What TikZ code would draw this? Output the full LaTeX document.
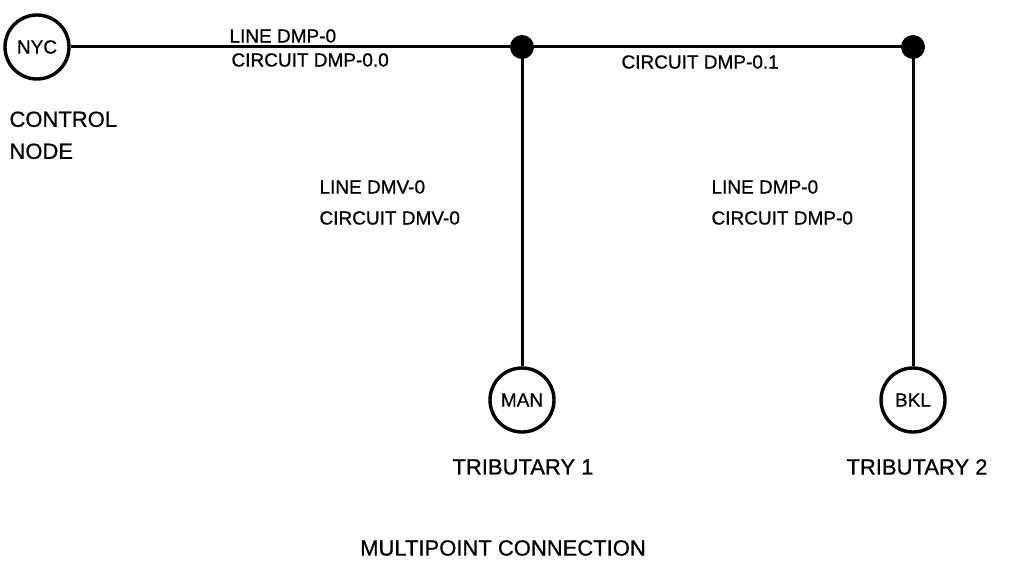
\documentclass[tikz,border=0pt]{standalone}
\usepackage{fontspec}
\setmainfont[FakeBold=0.7]{Liberation Sans}
\newcommand\linefont{\fontsize{19}{23}\selectfont}
\newcommand\namefont{\fontsize{22}{32}\selectfont}
\begin{document}
\begin{tikzpicture}[x=1pt, y=-1pt, line width=3pt,
  every node/.style={font=\linefont, inner sep=0pt},
  site/.style={draw, circle, minimum size=64pt, line width=3.4pt},
  tap/.style={fill, circle, minimum size=24pt},
  caption/.style={font=\namefont, align=left}]
  \useasboundingbox (0,0) rectangle (1019,588);
  % stations and taps
  \node[site] (nyc) at (37,47) {NYC};
  \node[site] (man) at (522,400) {MAN};
  \node[site] (bkl) at (913,400) {BKL};
  \node[tap] (tap1) at (522,47) {};
  \node[tap] (tap2) at (913,47) {};
  \draw (nyc) -- (tap1.center) -- (tap2.center);
  \draw (tap1.center) -- (man);
  \draw (tap2.center) -- (bkl);
  % line and circuit names
  \foreach \x/\y/\txt [count=\i] in {228/36/LINE DMP-0, 230/60/CIRCUIT DMP-0.0, 620/62/CIRCUIT DMP-0.1,
      318/187/LINE DMV-0, 318/218/CIRCUIT DMV-0, 710/187/LINE DMP-0, 710/218/CIRCUIT DMP-0}
    \node[anchor=west] (lab\i) at (\x,\y) {\txt};
  % node roles
  \node[caption, anchor=north west] (ctl) at (8,110) {CONTROL\\NODE};
  \node[caption] (trib1) at (523,467) {TRIBUTARY 1};
  \node[caption] (trib2) at (917,467) {TRIBUTARY 2};
  \node[caption] (title) at (503,548) {MULTIPOINT CONNECTION};
\end{tikzpicture}
\end{document}
